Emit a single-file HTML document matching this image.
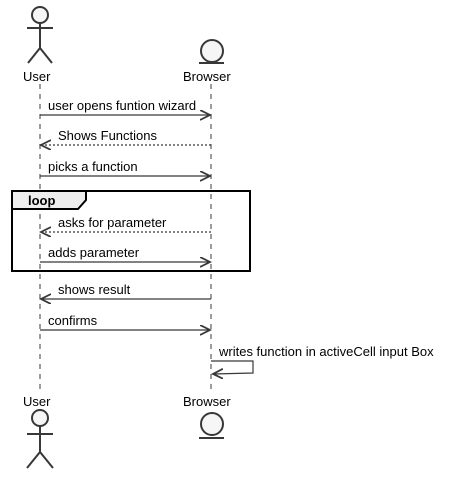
<!DOCTYPE html>
<html><head><style>body{margin:0;background:#fff}svg{display:block}text{font-family:"Liberation Sans",sans-serif;font-size:13px;fill:#000}</style></head><body>
<svg width="454" height="479" viewBox="0 0 454 479">
<defs><marker id="a" markerWidth="12" markerHeight="12" refX="10" refY="5" orient="auto" markerUnits="userSpaceOnUse"><path d="M0,0 L10,5 L0,10" fill="none" stroke="#383838" stroke-width="1.8"/></marker></defs>
<g stroke="#383838" stroke-width="1" stroke-dasharray="5,5"><line x1="40" y1="84" x2="40" y2="390"/><line x1="211" y1="84" x2="211" y2="390"/></g>
<g stroke="#383838" stroke-width="2" fill="#f6f6f6">
<circle cx="40" cy="15" r="8"/><line x1="40" y1="23" x2="40" y2="48"/><line x1="27" y1="28" x2="53" y2="28"/><path d="M28,63 L40,48 L52,63" fill="none"/>
<circle cx="212" cy="51" r="11"/><line x1="199" y1="63" x2="224" y2="63"/>
<circle cx="40" cy="418" r="8"/><line x1="40" y1="426" x2="40" y2="452"/><line x1="27" y1="434" x2="53" y2="434"/><path d="M27,468 L40,452 L53,468" fill="none"/>
<circle cx="212" cy="424" r="11"/><line x1="199" y1="438" x2="224" y2="438"/>
</g>
<g style="font-size:14px">
<text x="23" y="81">User</text><text x="183" y="81">Browser</text>
<text x="23" y="406">User</text><text x="183" y="406">Browser</text>
</g>
<g stroke="#383838" stroke-width="1.2" fill="none">
<line x1="40" y1="115" x2="210" y2="115" marker-end="url(#a)"/>
<line x1="211" y1="145" x2="41" y2="145" stroke-dasharray="2,2" marker-end="url(#a)"/>
<line x1="40" y1="176" x2="210" y2="176" marker-end="url(#a)"/>
<line x1="211" y1="232" x2="41" y2="232" stroke-dasharray="2,2" marker-end="url(#a)"/>
<line x1="40" y1="262" x2="210" y2="262" marker-end="url(#a)"/>
<line x1="211" y1="299" x2="41" y2="299" marker-end="url(#a)"/>
<line x1="40" y1="330" x2="210" y2="330" marker-end="url(#a)"/>
<path d="M211,361 L253,361 L253,373 L213,374" marker-end="url(#a)"/>
</g>
<rect x="12" y="191" width="238" height="80" fill="none" stroke="#000" stroke-width="2"/>
<path d="M12,191 L86,191 L86,200 L78,209 L12,209 Z" fill="#eee" stroke="#000" stroke-width="2"/>
<text x="28" y="205" style="font-weight:bold">loop</text>
<g style="font-size:12px">
<text x="48" y="110">user opens funtion wizard</text>
<text x="58" y="140">Shows Functions</text>
<text x="48" y="171">picks a function</text>
<text x="58" y="227">asks for parameter</text>
<text x="48" y="257">adds parameter</text>
<text x="58" y="294">shows result</text>
<text x="48" y="325">confirms</text>
<text x="219" y="356">writes function in activeCell input Box</text>
</g>
</svg></body></html>
